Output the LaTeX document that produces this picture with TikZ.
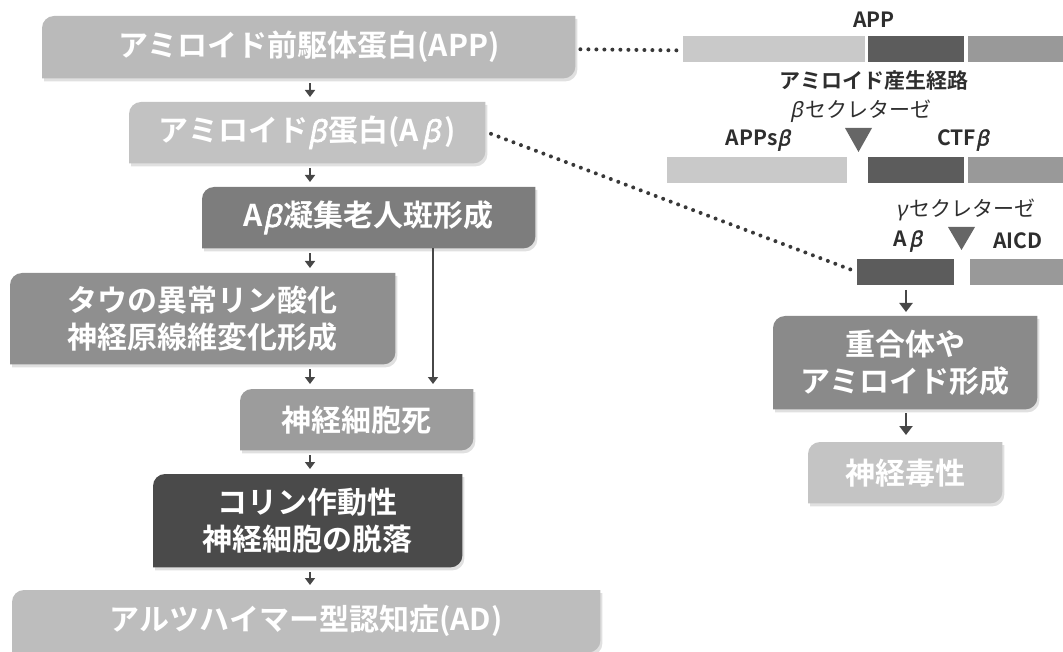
\documentclass[tikz,border=0pt]{standalone}
\usepackage{fontspec}
\setmainfont{Noto Sans CJK JP}[BoldFont={Noto Sans CJK JP Bold}]
\newfontfamily\grk{Noto Sans}[FakeSlant=0.2]
\newfontfamily\grkb{Noto Sans}[FakeSlant=0.2,FakeBold=2.2]
\usetikzlibrary{arrows.meta,backgrounds}
\newcommand\bt{{\grkb β}\kern2pt}
\newcommand\rb{{\grk β}\kern3pt}
\newcommand\rg{{\grk γ}\kern3pt}
\definecolor{cA}{gray}{0.73}
\definecolor{cB}{gray}{0.76}
\definecolor{cC}{gray}{0.49}
\definecolor{cD}{gray}{0.56}
\definecolor{cE}{gray}{0.61}
\definecolor{cF}{gray}{0.29}
\definecolor{cG}{gray}{0.74}
\definecolor{cH}{gray}{0.54}
\definecolor{cI}{gray}{0.77}
\definecolor{barL}{gray}{0.79}
\definecolor{barD}{gray}{0.36}
\definecolor{barM}{gray}{0.60}
\definecolor{tric}{gray}{0.40}
\definecolor{arrc}{gray}{0.28}
\definecolor{dotc}{gray}{0.22}
\definecolor{txtc}{gray}{0.18}
\definecolor{shad}{gray}{0.88}
% path of a box with rounded top-left and bottom-right corners
\newcommand\boxpath[3]{([shift={(#2,#3)}]#1.south west) -- ([shift={(#2,#3-12)}]#1.north west) arc[start angle=180,end angle=90,radius=12] -- ([shift={(#2,#3)}]#1.north east) -- ([shift={(#2,#3+12)}]#1.south east) arc[start angle=0,end angle=-90,radius=12] -- cycle}
\newcommand\boxfill[2]{%
  \begin{pgfonlayer}{background}
    \fill[shad] \boxpath{#1}{2}{-3};
    \fill[#2] \boxpath{#1}{0}{0};
  \end{pgfonlayer}}
\begin{document}
\begin{tikzpicture}[x=1pt,y=1pt,
  box/.style={rectangle, inner sep=0pt, text=white, font=\bfseries\fontsize{30}{37}\selectfont, align=center, anchor=north west},
  bar/.style={rectangle, inner sep=0pt, anchor=north west, minimum height=25.5pt},
  lbl/.style={inner sep=0pt, text=txtc, font=\bfseries\fontsize{21}{24}\selectfont},
  lblr/.style={inner sep=0pt, text=txtc, font=\fontsize{21}{24}\selectfont},
  arr/.style={draw=arrc, line width=2pt, -{Triangle[width=10pt,length=7pt]}, shorten <=5pt, shorten >=5pt},
  dots/.style={draw=dotc, line width=4pt, line cap=round, dash pattern=on 0pt off 8pt}]
\useasboundingbox (0,0) rectangle (1063,-652);
% left column boxes
\node[box, minimum width=533pt, minimum height=62pt] (b1) at (42,-16) {アミロイド前駆体蛋白(APP)};
\node[box, minimum width=356pt, minimum height=61pt] (b2) at (129,-102) {アミロイド\bt 蛋白(A\kern3pt{\grkb β}\kern4pt)};
\node[box, minimum width=333pt, minimum height=61pt] (b3) at (202,-187) {A\bt 凝集老人斑形成};
\node[box, minimum width=385pt, minimum height=91pt] (b4) at (10,-273) {タウの異常リン酸化\\神経原線維変化形成};
\node[box, minimum width=233pt, minimum height=61pt] (b5) at (240,-389) {神経細胞死};
\node[box, minimum width=309pt, minimum height=93pt] (b6) at (153,-474) {コリン作動性\\神経細胞の脱落};
\node[box, minimum width=588pt, minimum height=62pt] (b7) at (12,-590) {アルツハイマー型認知症(AD)};
% right column boxes
\node[box, minimum width=264pt, minimum height=93pt] (r1) at (773,-316) {重合体や\\アミロイド形成};
\node[box, minimum width=194pt, minimum height=61pt] (r2) at (808,-442) {神経毒性};
\boxfill{b1}{cA}
\boxfill{b2}{cB}
\boxfill{b3}{cC}
\boxfill{b4}{cD}
\boxfill{b5}{cE}
\boxfill{b6}{cF}
\boxfill{b7}{cG}
\boxfill{r1}{cH}
\boxfill{r2}{cI}
% bars
\node[bar, fill=barL, minimum width=182pt] (p1) at (683,-36) {};
\node[bar, fill=barD, minimum width=96pt] (p2) at (868,-36) {};
\node[bar, fill=barM, minimum width=95pt] (p3) at (968,-36) {};
\node[bar, fill=barL, minimum width=180pt] (q1) at (667,-157) {};
\node[bar, fill=barD, minimum width=96pt] (q2) at (868,-157) {};
\node[bar, fill=barM, minimum width=95pt] (q3) at (968,-157) {};
\node[bar, fill=barD, minimum width=97pt] (s1) at (857,-259) {};
\node[bar, fill=barM, minimum width=93pt] (s2) at (970,-259) {};
% triangles
\fill[tric] (845,-128) -- (872,-128) -- (858.5,-152) -- cycle;
\fill[tric] (948,-227) -- (975,-227) -- (961.5,-250) -- cycle;
% right labels
\node[lbl] (tapp) at (874,-20) {APP};
\node[lbl] (tpath) at (874,-81) {アミロイド産生経路};
\node[lblr] (tbs) at (861,-111) {\rb セクレターゼ};
\node[lbl] (tapps) at (758,-140) {APPs{\grkb β}};
\node[lbl] (tctf) at (963,-140) {CTF{\grkb β}};
\node[lblr] (tgs) at (966,-210) {\rg セクレターゼ};
\node[lbl] (tab) at (908,-241) {A\kern2pt{\grkb β}};
\node[lbl] (taicd) at (1018,-241) {AICD};
% coordinates for arrow columns
\coordinate (ax) at (310,0);
\coordinate (lx) at (433,0);
\coordinate (rx) at (906,0);
% arrows
\draw[arr] (b1.south -| ax) -- (b2.north -| ax);
\draw[arr] (b2.south -| ax) -- (b3.north -| ax);
\draw[arr] (b3.south -| ax) -- (b4.north -| ax);
\draw[arr] (b4.south -| ax) -- (b5.north -| ax);
\draw[arr] (b5.south -| ax) -- (b6.north -| ax);
\draw[arr] (b6.south -| ax) -- (b7.north -| ax);
\draw[arr, line width=2pt, shorten <=0pt, shorten >=5pt] (b3.south -| lx) -- (b5.north -| lx);
\draw[arr, line width=2.6pt, -{Triangle[width=13pt,length=9pt]}, shorten <=5pt, shorten >=4pt] (s1.south -| rx) -- (r1.north -| rx);
\draw[arr, line width=2.6pt, -{Triangle[width=13pt,length=9pt]}, shorten <=4pt, shorten >=7pt] (r1.south -| rx) -- (r2.north -| rx);
% dotted links
\draw[dots, shorten <=5pt, shorten >=3pt] ([yshift=-2pt]b1.east) -- ([yshift=-1.5pt]p1.west);
\draw[dots, shorten <=6pt, shorten >=4pt] ([yshift=1pt]b2.east) -- (s1.west);
\end{tikzpicture}
\end{document}
